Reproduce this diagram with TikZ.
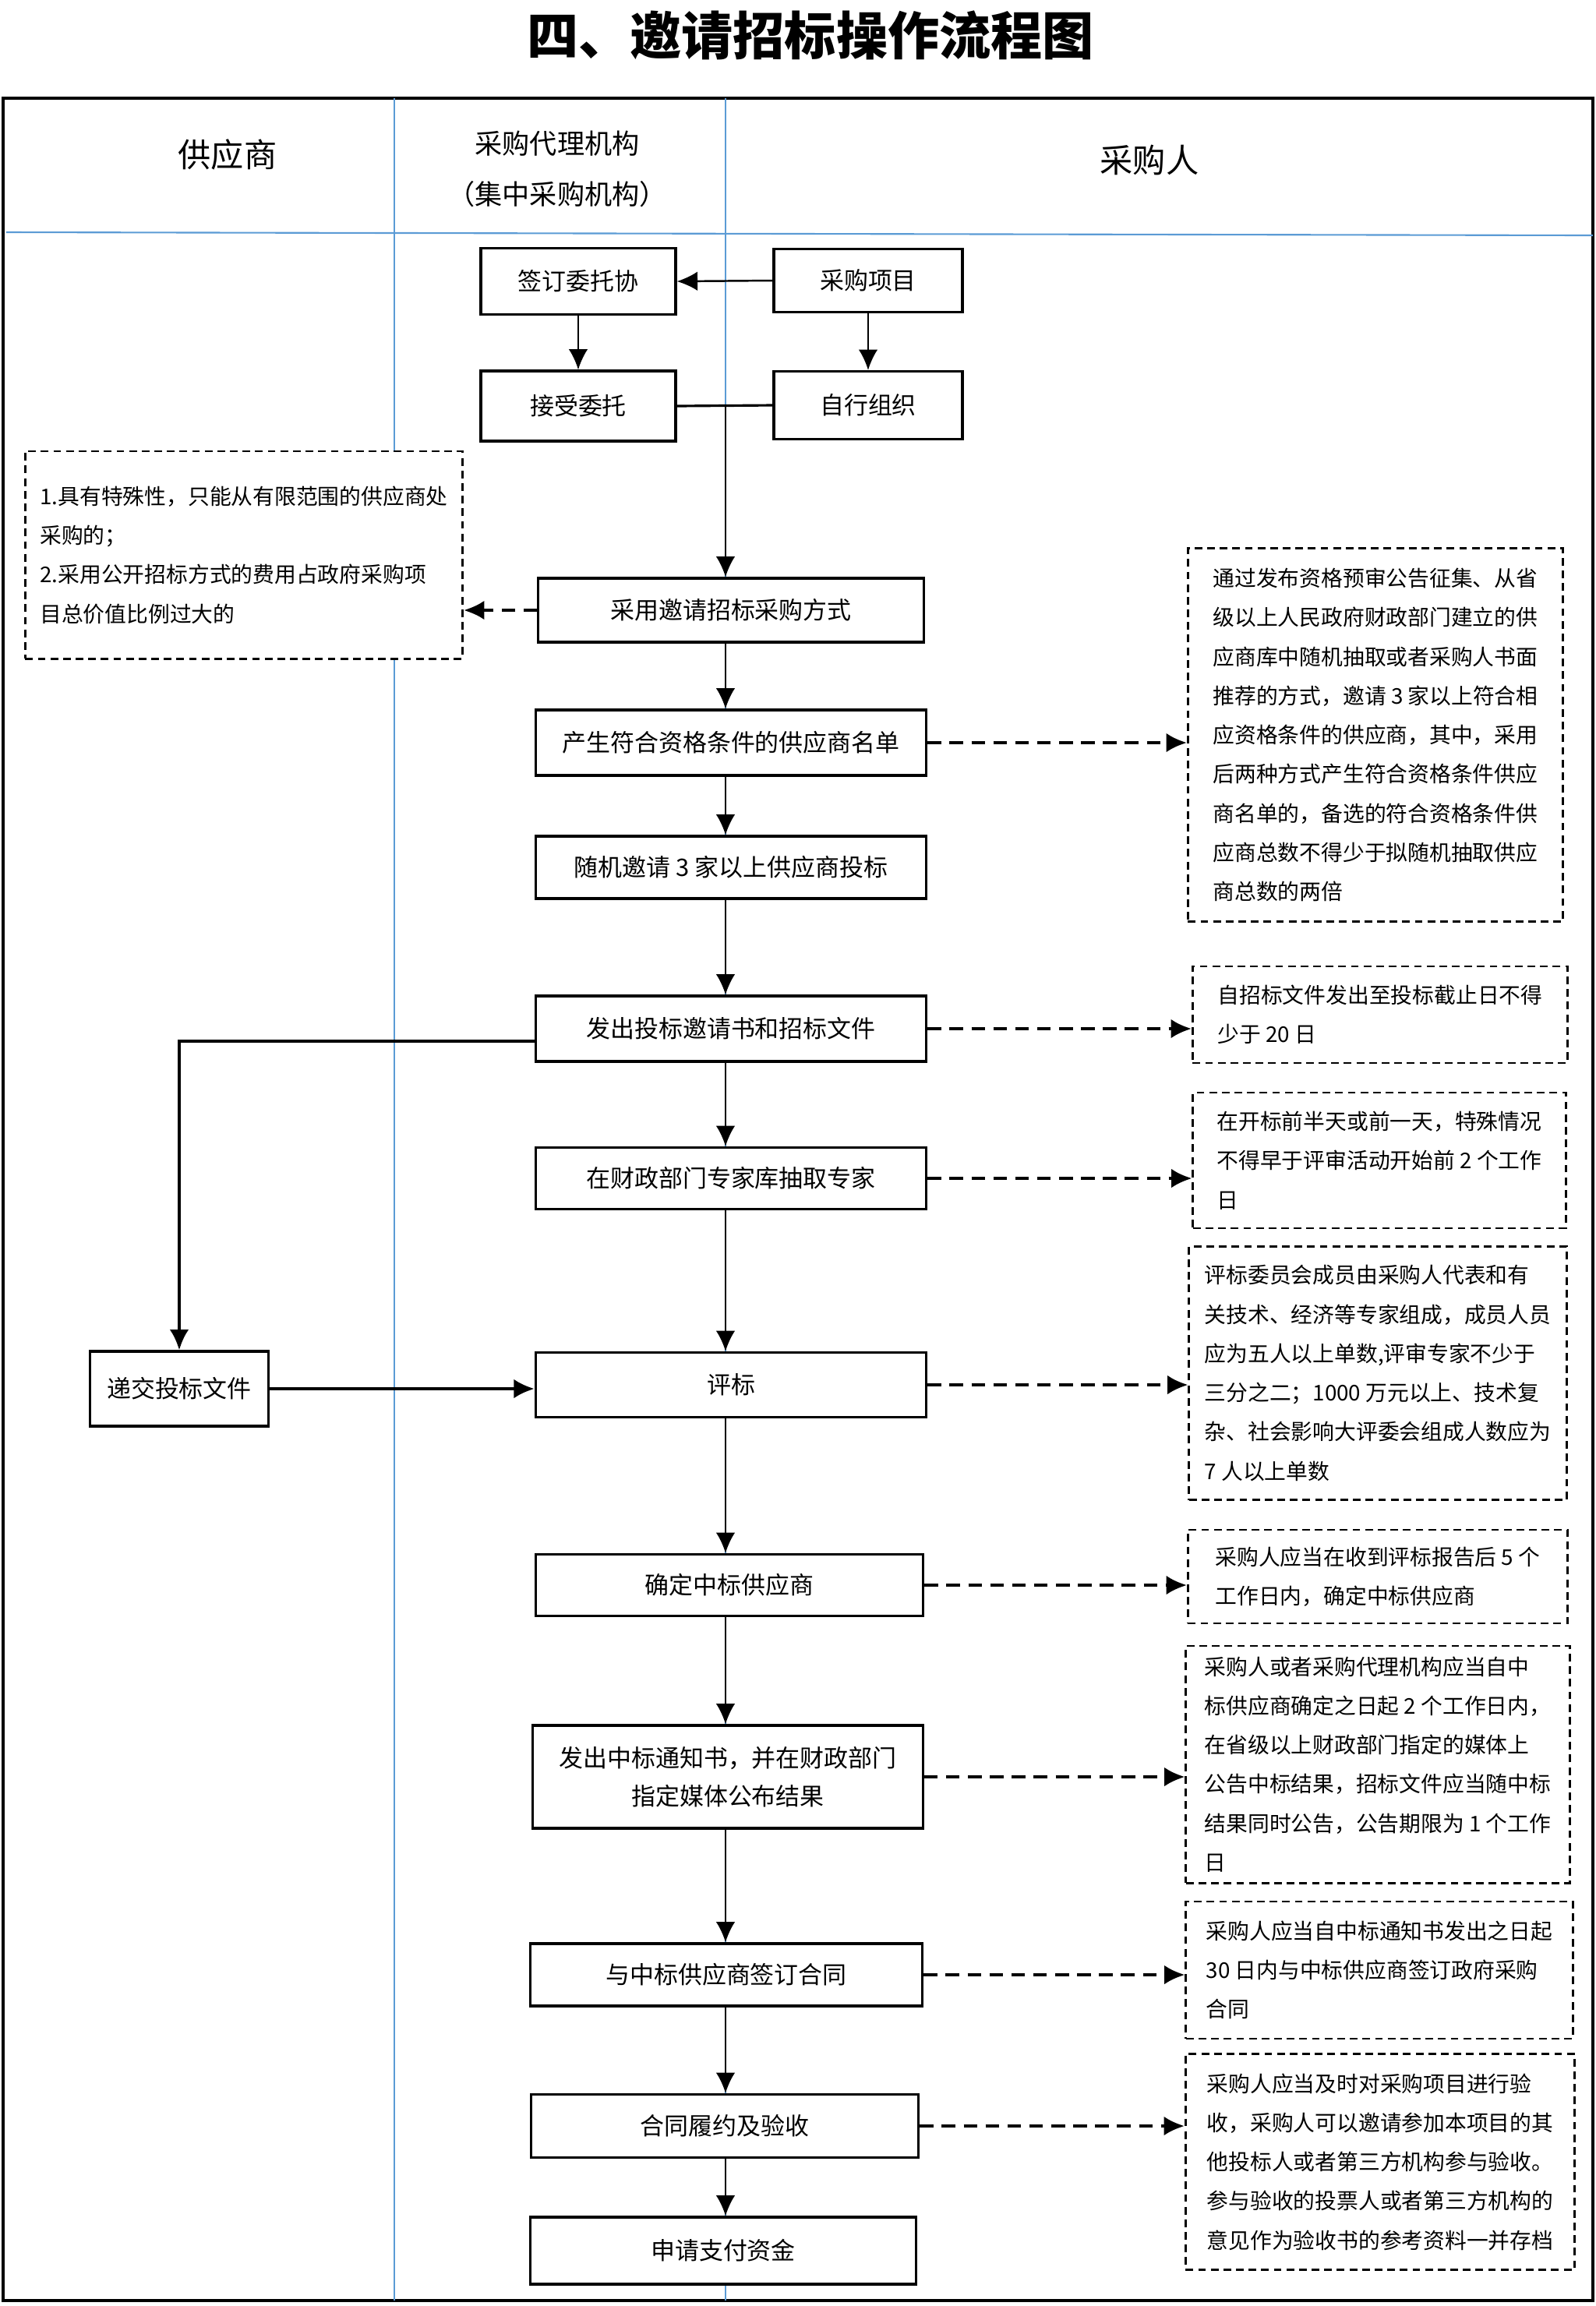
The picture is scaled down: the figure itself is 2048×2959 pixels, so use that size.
\documentclass[tikz,border=0pt]{standalone}
\usepackage{fontspec}
\setmainfont{Noto Sans CJK SC}
\usetikzlibrary{arrows.meta, positioning, calc}
\definecolor{lanecol}{RGB}{91,155,213}

\begin{document}
\begin{tikzpicture}[
	x=0.01cm, y=-0.01cm,
	>={Latex[length=7.5pt,width=7pt]},
	box/.style={draw, line width=0.9pt, fill=white, align=center, inner sep=2pt,
		font=\fontsize{8.8}{13.9}\selectfont},
	note/.style={draw, line width=0.8pt, dash pattern=on 2.8pt off 1.8pt, fill=white,
		align=left, inner sep=2pt, font=\fontsize{7.9}{14.3}\selectfont},
	lane/.style={draw=lanecol, line width=0.45pt},
	head/.style={font=\fontsize{12}{18}\selectfont},
	flow/.style={->, line width=0.7pt},
	feed/.style={->, line width=1.1pt},
	hint/.style={->, line width=1.1pt, dash pattern=on 5pt off 3pt}]
	\useasboundingbox (0,0) rectangle (2048,2959);

	% title and frame
	\node[font=\fontsize{18.8}{22}\selectfont\bfseries] (title) at (1040,45) {四、邀请招标操作流程图};
	\draw[line width=1.1pt] (4,126) rectangle (2044,2952);
	\draw[lane] (506,126) -- (506,2952);
	\draw[lane] (931,126) -- (931,2952);
	\draw[lane, line width=0.6pt] (8,298) -- (2044,302);
	\coordinate (axis) at (931,0);

	% lane headings
	\node[head] (supplier) at (292,198) {供应商};
	\node[head, align=center, font=\fontsize{10}{18.5}\selectfont] (agency) at (715,217) {采购代理机构\\（集中采购机构）};
	\node[head] (buyer) at (1475,205) {采购人};

	% process boxes
	\node[box, minimum width=2.50cm, minimum height=0.85cm] (sign)   at (742,361)  {签订委托协};
	\node[box, minimum width=2.42cm, minimum height=0.81cm] (proj)   at (1114,360) {采购项目};
	\node[box, minimum width=2.50cm, minimum height=0.90cm] (accept) at (742,521)  {接受委托};
	\node[box, minimum width=2.42cm, minimum height=0.87cm] (self)   at (1114,520) {自行组织};
	\node[box, minimum width=4.94cm, minimum height=0.82cm] (mode)   at (938,783)  {采用邀请招标采购方式};
	\node[box, minimum width=5.01cm, minimum height=0.84cm] (list)   at (938,953)  {产生符合资格条件的供应商名单};
	\node[box, minimum width=5.01cm, minimum height=0.80cm] (invite) at (938,1113) {随机邀请 3 家以上供应商投标};
	\node[box, minimum width=5.01cm, minimum height=0.84cm] (issue)  at (938,1320) {发出投标邀请书和招标文件};
	\node[box, minimum width=5.01cm, minimum height=0.79cm] (expert) at (938,1512) {在财政部门专家库抽取专家};
	\node[box, minimum width=5.01cm, minimum height=0.83cm] (eval)   at (938,1777) {评标};
	\node[box, minimum width=4.97cm, minimum height=0.79cm] (award)  at (936,2034) {确定中标供应商};
	\node[box, minimum width=5.00cm, minimum height=1.32cm] (notice) at (934,2280) {发出中标通知书，并在财政部门\\指定媒体公布结果};
	\node[box, minimum width=5.03cm, minimum height=0.80cm] (contract) at (932,2534) {与中标供应商签订合同};
	\node[box, minimum width=4.97cm, minimum height=0.81cm] (perform) at (930,2728) {合同履约及验收};
	\node[box, minimum width=4.95cm, minimum height=0.86cm] (pay)    at (928,2888) {申请支付资金};
	\node[box, minimum width=2.29cm, minimum height=0.96cm] (submit) at (230,1782) {递交投标文件};

	% notes
	\node[note, minimum width=5.61cm, minimum height=2.66cm] (why) at (313,712)
		{1.具有特殊性，只能从有限范围的供应商处\\采购的；\\2.采用公开招标方式的费用占政府采购项\\目总价值比例过大的};
	\node[note, minimum width=4.81cm, minimum height=4.79cm] (n1) at (1765,943)
		{通过发布资格预审公告征集、从省\\级以上人民政府财政部门建立的供\\应商库中随机抽取或者采购人书面\\推荐的方式，邀请 3 家以上符合相\\应资格条件的供应商，其中，采用\\后两种方式产生符合资格条件供应\\商名单的，备选的符合资格条件供\\应商总数不得少于拟随机抽取供应\\商总数的两倍};
	\node[note, minimum width=4.81cm, minimum height=1.24cm] (n2) at (1771,1302)
		{自招标文件发出至投标截止日不得\\少于 20 日};
	\node[note, minimum width=4.78cm, minimum height=1.74cm] (n3) at (1770,1489)
		{在开标前半天或前一天，特殊情况\\不得早于评审活动开始前 2 个工作\\日};
	\node[note, minimum width=4.84cm, minimum height=3.25cm] (n4) at (1768,1762)
		{评标委员会成员由采购人代表和有\\关技术、经济等专家组成，成员人员\\应为五人以上单数,评审专家不少于\\三分之二；1000 万元以上、技术复\\杂、社会影响大评委会组成人数应为\\7 人以上单数};
	\node[note, minimum width=4.87cm, minimum height=1.20cm] (n5) at (1768,2023)
		{采购人应当在收到评标报告后 5 个\\工作日内，确定中标供应商};
	\node[note, minimum width=4.92cm, minimum height=3.04cm] (n6) at (1768,2264)
		{采购人或者采购代理机构应当自中\\标供应商确定之日起 2 个工作日内，\\在省级以上财政部门指定的媒体上\\公告中标结果，招标文件应当随中标\\结果同时公告，公告期限为 1 个工作\\日};
	\node[note, minimum width=4.96cm, minimum height=1.76cm] (n7) at (1770,2528)
		{采购人应当自中标通知书发出之日起\\30 日内与中标供应商签订政府采购\\合同};
	\node[note, minimum width=4.99cm, minimum height=2.77cm] (n8) at (1771,2774)
		{采购人应当及时对采购项目进行验\\收，采购人可以邀请参加本项目的其\\他投标人或者第三方机构参与验收。\\参与验收的投票人或者第三方机构的\\意见作为验收书的参考资料一并存档};

	% connectors
	\draw[flow] (proj.west) -- (sign.east);
	\draw[flow] (sign) -- (accept);
	\draw[flow] (proj) -- (self);
	\draw[line width=0.9pt] (accept.east) -- (self.west);
	\draw[flow] (accept.east -| axis) -- (mode.north -| axis);
	\foreach \from/\to in {mode/list, list/invite, invite/issue, issue/expert, expert/eval,
		eval/award, award/notice, notice/contract, contract/perform, perform/pay}
		\draw[flow] (\from.south -| axis) -- (\to.north -| axis);
	\draw[feed] ([yshift=-0.16cm]issue.west) -| (submit.north);
	\draw[feed] (submit.east) -- (eval.west |- submit.east);
	\draw[hint] (mode.west) -- (why.east |- mode.west);
	\foreach \from/\to in {list/n1, issue/n2, expert/n3, eval/n4, award/n5,
		notice/n6, contract/n7, perform/n8}
		\draw[hint] (\from.east) -- (\from.east -| \to.west);
\end{tikzpicture}
\end{document}
